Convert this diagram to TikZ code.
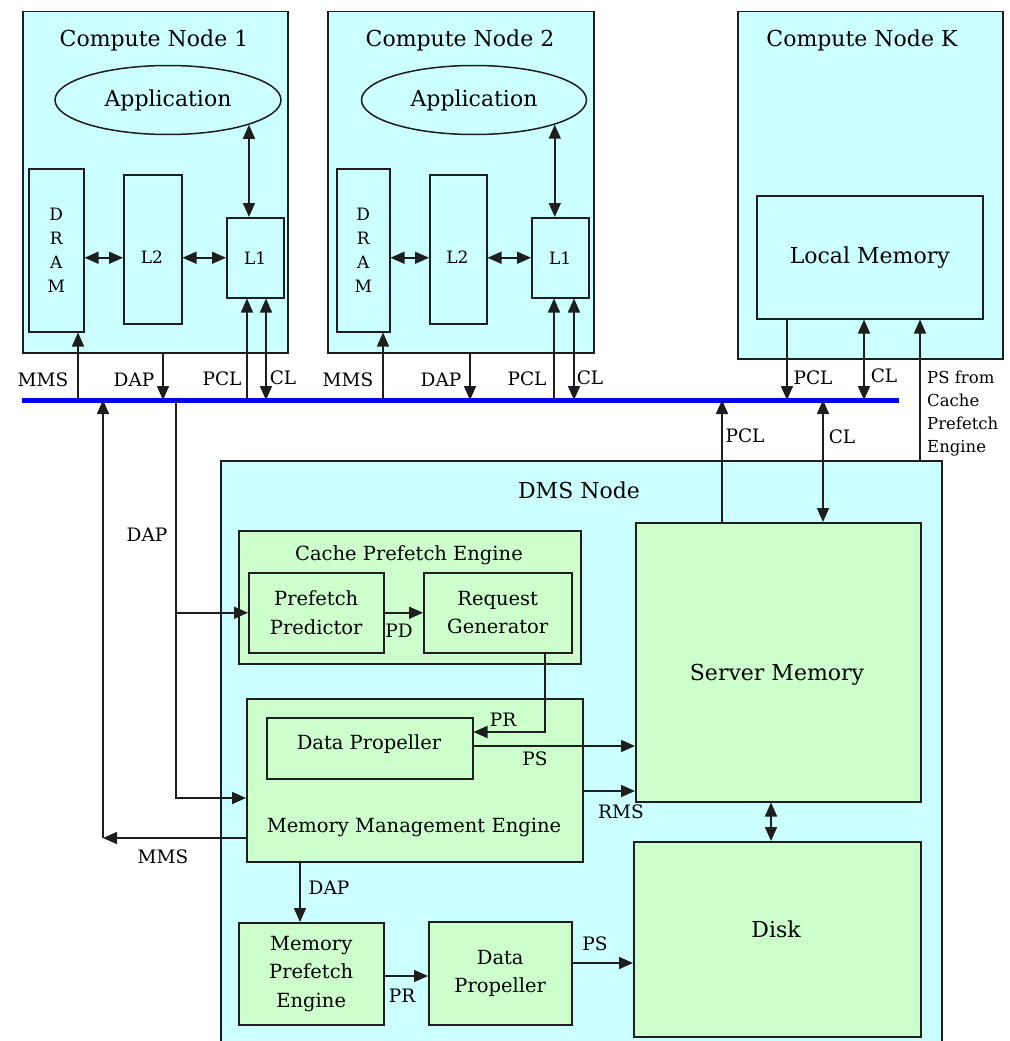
\documentclass[tikz,border=0pt]{standalone}
\usepackage{fontspec}
\setmainfont{DejaVu Serif}
\usetikzlibrary{arrows.meta,shapes.geometric}
\definecolor{cyanbg}{RGB}{204,255,255}
\definecolor{greenbg}{RGB}{204,255,204}
\definecolor{edge}{RGB}{30,30,30}
\definecolor{busblue}{RGB}{0,0,255}
\newcommand\titlefont{\fontsize{22}{26}\selectfont}
\newcommand\boxfont{\fontsize{19.5}{28.5}\selectfont}
\newcommand\tagfont{\fontsize{18.5}{23}\selectfont}
\newcommand\notefont{\fontsize{16.5}{23}\selectfont}
\newcommand\cachefont{\fontsize{17}{24}\selectfont}

\begin{document}
\begin{tikzpicture}[x=1pt,y=-1pt,
  box/.style={draw=edge, line width=1.5pt, inner sep=0pt, anchor=north west, align=center},
  cbox/.style={box, fill=cyanbg},
  gbox/.style={box, fill=greenbg},
  wh/.style 2 args={minimum width=#1pt, minimum height=#2pt},
  txt/.style={inner sep=0pt, align=center, text=black},
  tag/.style={txt, font=\tagfont},
  wire/.style={draw=edge, line width=1.6pt},
  arr/.style={wire, -{Triangle[length=14pt,width=12pt]}},
  darr/.style={wire, {Triangle[length=14pt,width=12pt]}-{Triangle[length=14pt,width=12pt]}},
  bus/.style={draw=busblue, line width=5pt},
]
\useasboundingbox (0,0) rectangle (1009,1041);
\fill[white] (0,0) rectangle (1009,1041);
\clip (0,0) rectangle (1009,1041);

% ---------- compute node 1 ----------
\node[cbox, wh={265}{341}] (cn1) at (22,11) {};
\node[txt, font=\titlefont] (t-cn1) at (154,40) {Compute Node 1};
\node[draw=edge, line width=1.5pt, ellipse, minimum width=226pt, minimum height=69pt,
      inner sep=0pt, font=\titlefont] (app1) at (168,100) {Application};
\node[cbox, wh={55}{163}, font=\cachefont] (dram1) at (28,168) {D\\R\\A\\M};
\node[cbox, wh={58}{149}] (l2a) at (123,174) {};
\node[txt, font=\cachefont] (t-l2a) at (152,257) {L2};
\node[cbox, wh={57}{80}, font=\cachefont] (l1a) at (226,217) {L1};

% ---------- compute node 2 ----------
\node[cbox, wh={266}{341}] (cn2) at (327,11) {};
\node[txt, font=\titlefont] (t-cn2) at (460,40) {Compute Node 2};
\node[draw=edge, line width=1.5pt, ellipse, minimum width=225pt, minimum height=69pt,
      inner sep=0pt, font=\titlefont] (app2) at (474,100) {Application};
\node[cbox, wh={53}{163}, font=\cachefont] (dram2) at (336,168) {D\\R\\A\\M};
\node[cbox, wh={57}{149}] (l2b) at (429,174) {};
\node[txt, font=\cachefont] (t-l2b) at (457.5,257) {L2};
\node[cbox, wh={57}{80}, font=\cachefont] (l1b) at (531,217) {L1};

% ---------- compute node K ----------
\node[cbox, wh={265}{347}] (cnk) at (737,11) {};
\node[txt, font=\titlefont] (t-cnk) at (862,40) {Compute Node K};
\node[cbox, wh={226}{123}, font=\titlefont] (lm) at (756,195) {Local Memory};

% ---------- DMS node ----------
\node[cbox, wh={721}{620}] (dms) at (220,460) {};
\node[txt, font=\titlefont] (t-dms) at (579,490) {DMS Node};

\node[gbox, wh={342}{133}] (cpe) at (238,530) {};
\node[txt, font=\boxfont] (t-cpe) at (409,555) {Cache Prefetch Engine};
\node[gbox, wh={135}{80}, font=\boxfont] (pp) at (248,572) {Prefetch\\Predictor};
\node[gbox, wh={148}{80}, font=\boxfont] (rg) at (423,572) {Request\\Generator};

\node[gbox, wh={336}{163}] (mme) at (246,698) {};
\node[txt, font=\boxfont] (t-mme) at (414,827) {Memory Management Engine};
\node[gbox, wh={206}{61}] (dp1) at (266,717) {};
\node[txt, font=\boxfont] (t-dp1) at (369,744) {Data Propeller};

\node[gbox, wh={285}{279}] (sm) at (635,522) {};
\node[txt, font=\titlefont] (t-sm) at (777,675) {Server Memory};
\node[gbox, wh={287}{195}] (disk) at (633,841) {};
\node[txt, font=\titlefont] (t-disk) at (776,929) {Disk};

\node[gbox, wh={145}{102}, font=\boxfont] (mpe) at (238,922) {Memory\\Prefetch\\Engine};
\node[gbox, wh={143}{103}, font=\boxfont] (dp2) at (428,921) {Data\\Propeller};

% ---------- interconnect bus ----------
\coordinate (busL) at (22,400);
\coordinate (busR) at (899,400);
\draw[bus] (busL) -- (busR);

\coordinate (p-mms1) at (78,400);
\coordinate (p-dap1) at (163,400);
\coordinate (p-pcl1) at (247,400);
\coordinate (p-cl1)  at (266,400);
\coordinate (p-mms2) at (383,400);
\coordinate (p-dap2) at (470,400);
\coordinate (p-pcl2) at (554,400);
\coordinate (p-cl2)  at (574,400);
\coordinate (p-pclk) at (787,400);
\coordinate (p-clk)  at (864,400);
\coordinate (p-pcls) at (722,400);
\coordinate (p-cls)  at (823,400);
\coordinate (p-dapd) at (176,400);
\coordinate (p-mmsd) at (103,400);
\coordinate (x-ps)   at (920,400);

% links inside the compute nodes
\draw[darr] (app1.-17.4) -- (app1.-17.4 |- l1a.north);
\draw[darr] (dram1.east |- l1a.center) -- (l2a.west |- l1a.center);
\draw[darr] (l2a.east |- l1a.center) -- (l1a.west);
\draw[darr] (app2.-17.3) -- (app2.-17.3 |- l1b.north);
\draw[darr] (dram2.east |- l1b.center) -- (l2b.west |- l1b.center);
\draw[darr] (l2b.east |- l1b.center) -- (l1b.west);

% compute nodes to bus
\draw[arr] (p-mms1) -- (p-mms1 |- dram1.south);
\draw[arr] (p-dap1 |- cn1.south) -- (p-dap1);
\draw[arr] (p-pcl1) -- (p-pcl1 |- l1a.south);
\draw[darr] (p-cl1) -- (p-cl1 |- l1a.south);
\draw[arr] (p-mms2) -- (p-mms2 |- dram2.south);
\draw[arr] (p-dap2 |- cn2.south) -- (p-dap2);
\draw[arr] (p-pcl2) -- (p-pcl2 |- l1b.south);
\draw[darr] (p-cl2) -- (p-cl2 |- l1b.south);
\draw[arr] (p-pclk |- lm.south) -- (p-pclk);
\draw[darr] (p-clk) -- (p-clk |- lm.south);
\draw[arr] (x-ps |- dms.north) -- (x-ps |- lm.south);

\node[tag] (l-mms1) at (43,380) {MMS};
\node[tag] (l-dap1) at (134,380) {DAP};
\node[tag] (l-pcl1) at (222,379) {PCL};
\node[tag] (l-cl1)  at (283,378) {CL};
\node[tag] (l-mms2) at (348,380) {MMS};
\node[tag] (l-dap2) at (441,380) {DAP};
\node[tag] (l-pcl2) at (527,379) {PCL};
\node[tag] (l-cl2)  at (590,378) {CL};
\node[tag] (l-pclk) at (813,378) {PCL};
\node[tag] (l-clk)  at (884,376) {CL};
\node[txt, font=\notefont, align=left, anchor=north west] (l-ps) at (927,371)
  {PS from\\Cache\\Prefetch\\Engine};

% bus to server memory
\draw[arr] (p-pcls |- sm.north) -- (p-pcls);
\draw[darr] (p-cls) -- (p-cls |- sm.north);
\node[tag] (l-pcls) at (745,436) {PCL};
\node[tag] (l-cls)  at (842,437) {CL};

% access pattern feed into the DMS node
\coordinate (mme-in) at (246,798);
\draw[arr] (p-dapd) |- (mme-in);
\draw[arr] (p-dapd |- pp.west) -- (pp.west);
\node[tag] (l-dapd) at (147,535) {DAP};

% memory management messages back to the bus
\coordinate (mms-out)  at (246,838);
\coordinate (mms-turn) at (103,838);
\draw[arr] (mms-out) -- (mms-turn);
\draw[arr] (mms-turn) -- (p-mmsd);
\node[tag] (l-mmsd) at (163,857) {MMS};

% inside the DMS node
\draw[arr] (pp.east) -- (pp.east -| rg.west);
\node[tag] (l-pd) at (399,631) {PD};

\coordinate (pr-turn) at (545,732);
\draw[arr] (pr-turn |- rg.south) -- (pr-turn) -- (pr-turn -| dp1.east);
\node[tag] (l-pr1) at (503,720) {PR};

\coordinate (ps-out) at (472,746);
\draw[arr] (ps-out) -- (ps-out -| sm.west);
\node[tag] (l-ps1) at (535,759) {PS};

\coordinate (rms-out) at (582,791);
\draw[arr] (rms-out) -- (rms-out -| sm.west);
\node[tag] (l-rms) at (621,812) {RMS};

\coordinate (x-sd) at (771,820);
\draw[darr] (x-sd |- sm.south) -- (x-sd |- disk.north);

\coordinate (x-dap) at (300,890);
\draw[arr] (x-dap |- mme.south) -- (x-dap |- mpe.north);
\node[tag] (l-dapm) at (329,888) {DAP};

\coordinate (y-pr) at (400,976);
\draw[arr] (mpe.east |- y-pr) -- (dp2.west |- y-pr);
\node[tag] (l-pr2) at (402,996) {PR};

\coordinate (y-ps) at (600,963);
\draw[arr] (dp2.east |- y-ps) -- (disk.west |- y-ps);
\node[tag] (l-ps2) at (595,944) {PS};
\end{tikzpicture}
\end{document}
